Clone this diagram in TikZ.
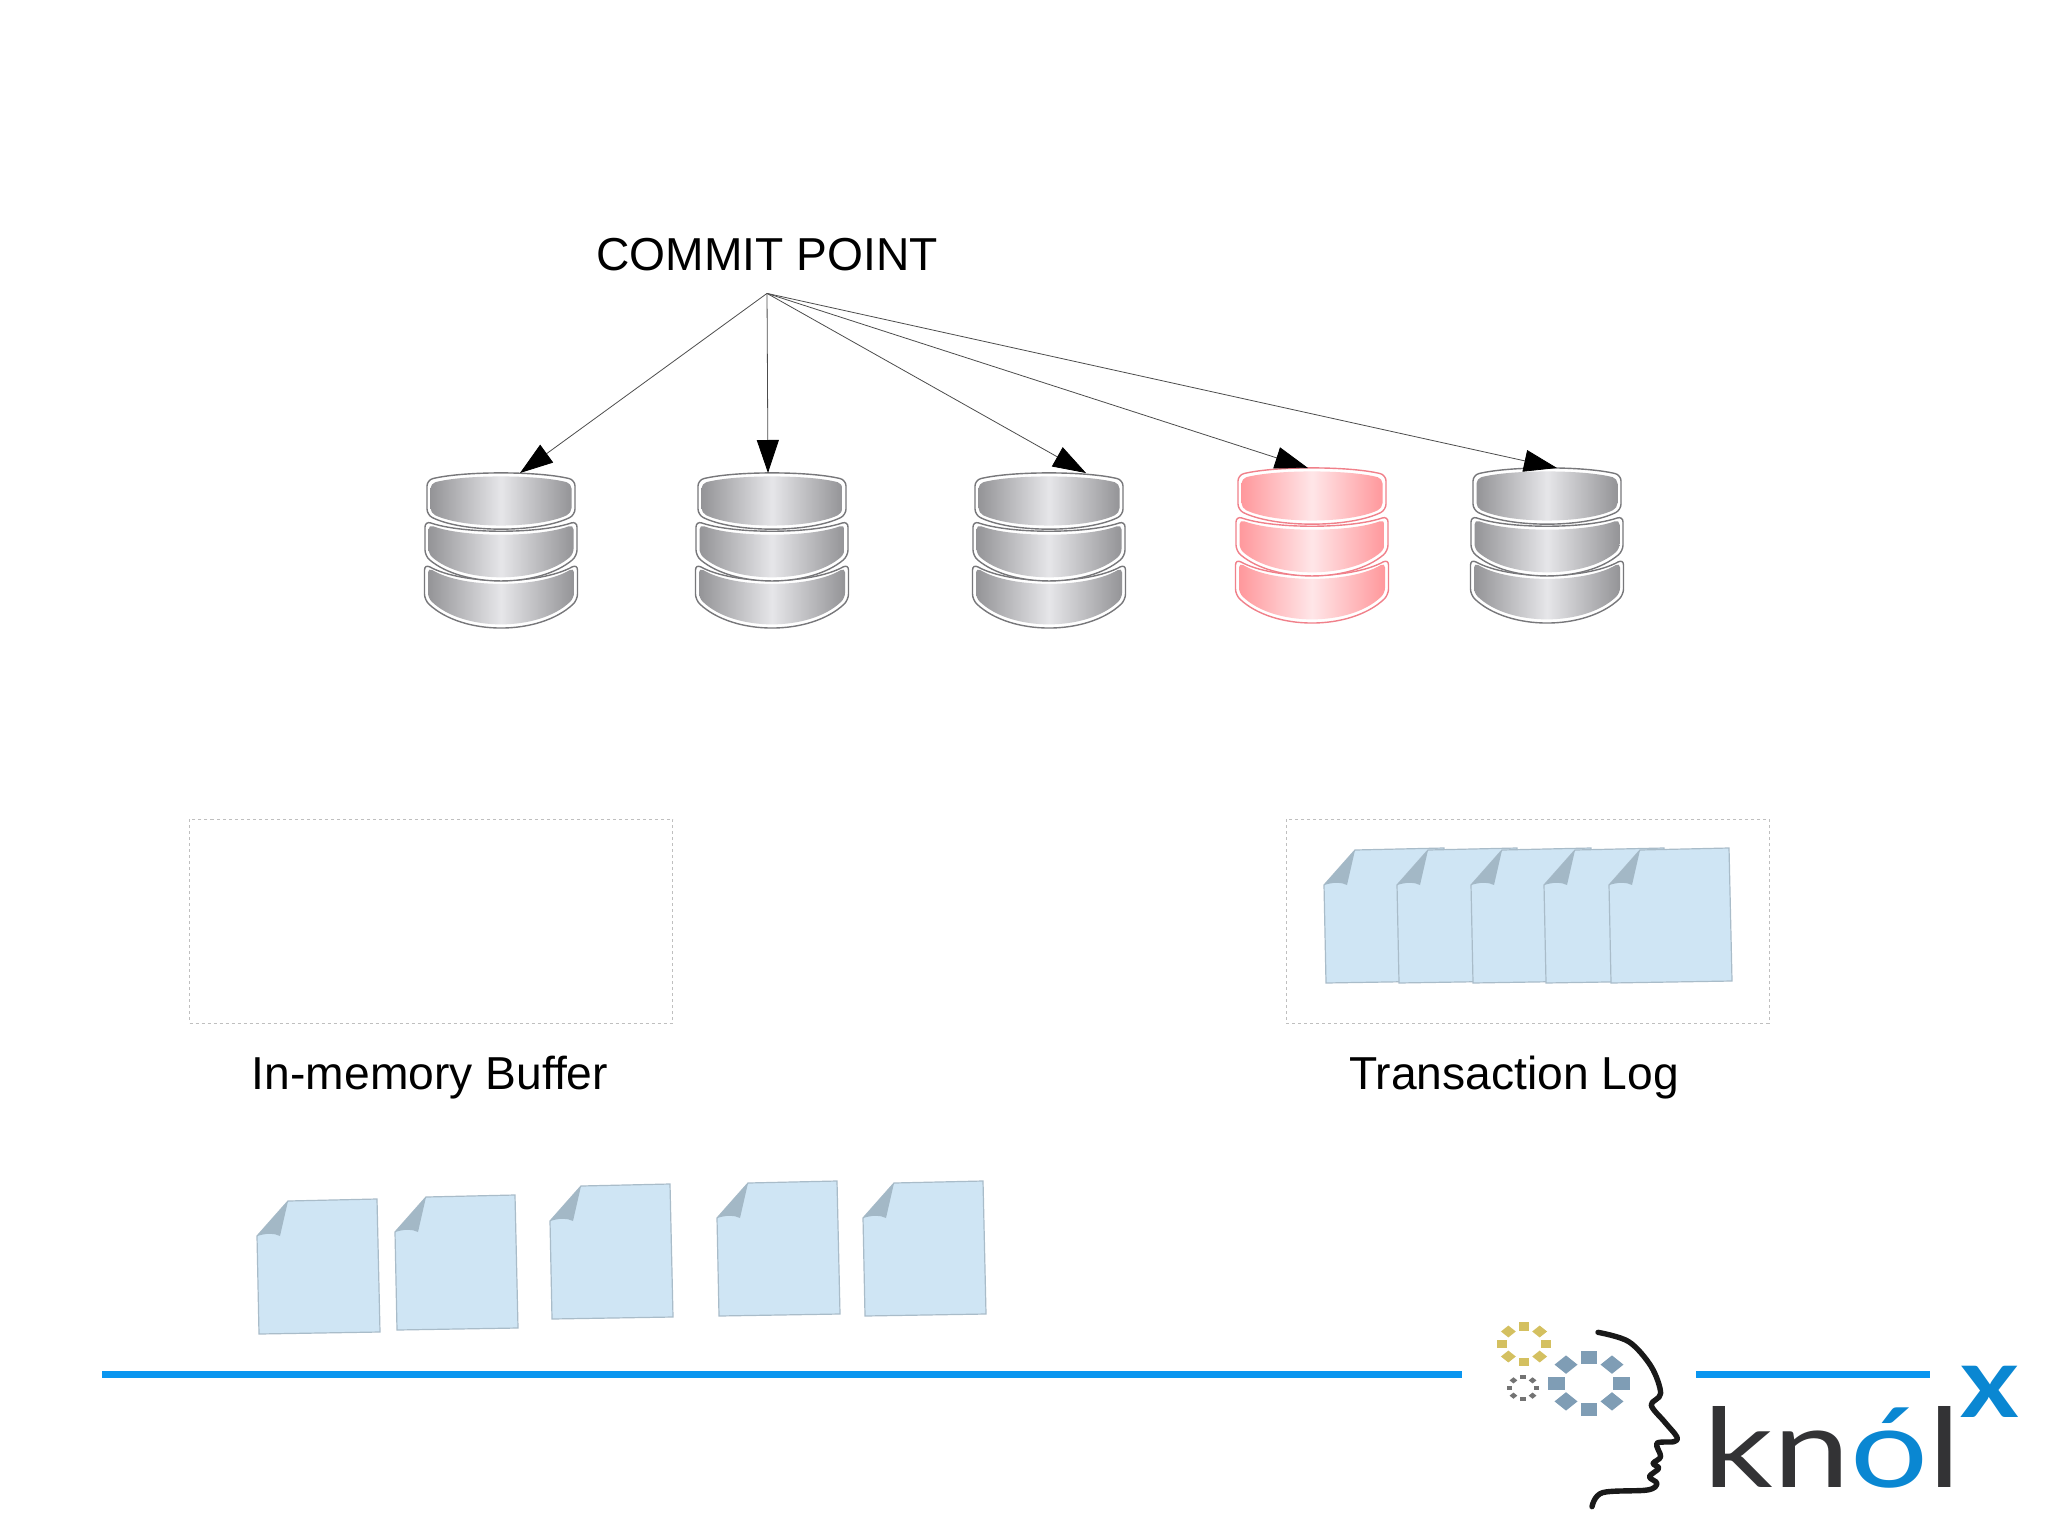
\documentclass[tikz,border=0pt]{standalone}
\usepackage{fontspec}
\setmainfont{Liberation Sans}
\newfontfamily\logofont{Lato}
\usetikzlibrary{arrows.meta}
\definecolor{dbedge}{HTML}{77777A}
\definecolor{dbside}{HTML}{949497}
\definecolor{dbmid}{HTML}{E6E6E9}
\definecolor{redgedge}{HTML}{F0808A}
\definecolor{redside}{HTML}{FF989C}
\definecolor{redmid}{HTML}{FFE6E8}
\definecolor{docfill}{HTML}{CFE5F4}
\definecolor{docedge}{HTML}{A9BCC9}
\definecolor{docfold}{HTML}{A3B8C6}
\definecolor{ruleblue}{HTML}{0A96F0}
\definecolor{logoblue}{HTML}{0A87D2}
\definecolor{logodark}{HTML}{333335}
\definecolor{gearyellow}{HTML}{D4C060}
\definecolor{gearblue}{HTML}{7F9DB5}
% one disc: half width, top edge, top control, bottom edge, bottom control, colours
\newcommand{\dbdisc}[8]{%
\draw[draw=#6,fill=white,line width=.7pt,rounded corners=3pt] (-#1,#2) .. controls (-.5*#1,#3) and (.5*#1,#3) .. (#1,#2) -- (#1,#4) .. controls (.5*#1,#5) and (-.5*#1,#5) .. (-#1,#4) -- cycle;
\path[left color=#7,right color=#7,middle color=#8,rounded corners=2.5pt] (-#1+3.5,#2+3.5) .. controls (-.5*#1,#3+3.5) and (.5*#1,#3+3.5) .. (#1-3.5,#2+3.5) -- (#1-3.5,#4-2) .. controls (.5*#1,#5-4) and (-.5*#1,#5-4) .. (-#1+3.5,#4-2) -- cycle;}
\tikzset{
  pics/dbstack/.style n args={3}{code={
    \dbdisc{76.5}{91}{112}{127}{163}{#1}{#2}{#3}
    \dbdisc{76}{48}{61}{83}{115}{#1}{#2}{#3}
    \dbdisc{74}{7}{-2}{42}{60}{#1}{#2}{#3}
  }},
  pics/notedoc/.style={code={
    \draw[draw=docedge,fill=docfill,line width=.6pt] (0,0) -- (31,-35) -- (120,-37) -- (123,96) -- (2,98) -- cycle;
    \fill[docfold] (0,0) -- (31,-35) -- (23,0) .. controls (17,-3) and (10,-3) .. (0,0);
  }},
  pics/gearring/.style n args={3}{code={
    \foreach \a in {0,45,...,315}
      \fill[#3,shift={(\a:#1)},rotate=\a] (-#2,-#2) rectangle (#2,#2);
  }},
  dashbox/.style={draw=black!25,dash pattern=on 1.5pt off 1.5pt,line width=.5pt,minimum width=241.5pt,minimum height=102pt,inner sep=0pt},
  boxlabel/.style={font=\fontsize{23.1}{28}\selectfont},
  fanout/.style={-{Triangle[length=16.5pt,width=11pt,color=black,fill=black]},draw=black!70,line width=.4pt},
  bluerule/.style={draw=ruleblue,line width=3.5pt}
}
\begin{document}
\begin{tikzpicture}[x=.5pt,y=-.5pt]
\useasboundingbox (0,0) rectangle (2048,1535);
\node[boxlabel,minimum height=38pt,inner sep=0pt] (commit) at (767,255) {COMMIT POINT};
% stacks
\pic at (501,473) {dbstack={dbedge}{dbside}{dbmid}};
\pic at (772,473) {dbstack={dbedge}{dbside}{dbmid}};
\pic at (1049,473) {dbstack={dbedge}{dbside}{dbmid}};
\pic at (1312,468) {dbstack={redgedge}{redside}{redmid}};
\pic at (1547,468) {dbstack={dbedge}{dbside}{dbmid}};
\coordinate (dbone) at (520,473);
\coordinate (dbtwo) at (768,473);
\coordinate (dbthree) at (1086,473);
\coordinate (dbfour) at (1308,468);
\coordinate (dbfive) at (1557,468);
\foreach \target in {dbone,dbtwo,dbthree,dbfour,dbfive}
  \draw[fanout] (commit.south) -- (\target);
% buffer and log
\node[dashbox] (bufferbox) at (431,921) {};
\node[dashbox] (logbox) at (1527.5,921) {};
\node[boxlabel] (bufferlabel) at (430,1078) {In-memory Buffer};
\node[boxlabel] (loglabel) at (1514,1078) {Transaction Log};
\foreach \docx in {1324,1397,1471,1544,1609}
  \pic at (\docx,885) {notedoc};
\pic at (257,1236) {notedoc};
\pic at (395,1232) {notedoc};
\pic at (550,1221) {notedoc};
\pic at (717,1218) {notedoc};
\pic at (863,1218) {notedoc};
% footer
\coordinate (ruleastart) at (102,1374);
\coordinate (ruleaend) at (1462,1374);
\coordinate (rulebstart) at (1696,1374);
\coordinate (rulebend) at (1930,1374);
\draw[bluerule] (ruleastart) -- (ruleaend);
\draw[bluerule] (rulebstart) -- (rulebend);
\pic[xscale=1.25] at (1524,1344) {gearring={17.7}{4.2}{gearyellow}};
\pic[xscale=1.25] at (1523,1388) {gearring={10.8}{2.2}{black!55}};
\pic[xscale=1.25] at (1589,1383) {gearring={26}{6.5}{gearblue}};
\begin{scope}[shift={(1460,1300)},xscale=.375,yscale=.3333]
\draw[line width=2.7pt,line cap=round,line join=round,black!90] plot[smooth,tension=.55] coordinates {(368,97) (450,125) (510,200) (535,280) (510,315) (545,365) (578,410) (570,425) (525,430) (535,470) (515,490) (530,505) (505,530) (525,550) (500,570) (380,578) (352,620)};
\end{scope}
\node[font=\logofont\fontsize{55}{60}\selectfont,text=logodark,anchor=base west,inner sep=0pt,xscale=1.25,transform shape] (logoname) at (1703,1487) {kn\textcolor{logoblue}{ó}l};
\node[font=\logofont\bfseries\fontsize{50}{56}\selectfont,text=logoblue,anchor=base,inner sep=0pt,xscale=1.12,transform shape] (logox) at (1990,1417) {x};
\end{tikzpicture}
\end{document}
